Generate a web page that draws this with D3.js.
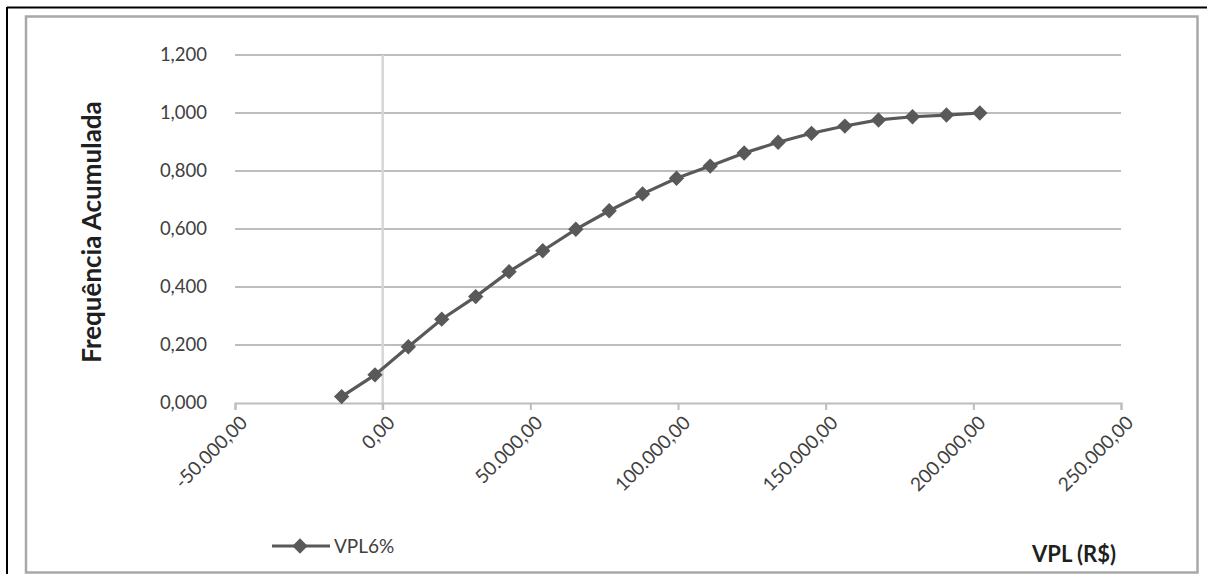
<!DOCTYPE html>
<html>
<head>
<meta charset="utf-8">
<script src="https://cdn.jsdelivr.net/npm/d3@7"></script>
<style>
  html, body { margin: 0; padding: 0; background: #fff; }
  svg { display: block; font-family: Lato, "Open Sans", sans-serif; }
</style>
</head>
<body>
<svg id="chart" width="1207" height="574"></svg>
<script>
// ---- Data ----
const vplValues = [-13900, -2600, 8700, 20000, 31500, 42800, 54200, 65400, 76700, 88000,
                   99500, 110900, 122400, 133900, 145200, 156500, 167900, 179400, 190900, 202200];
const freqAcum  = [0.022, 0.097, 0.194, 0.289, 0.367, 0.453, 0.525, 0.599, 0.663, 0.721,
                   0.775, 0.817, 0.862, 0.899, 0.930, 0.955, 0.976, 0.987, 0.993, 1.000];
const xTicks = [-50000, 0, 50000, 100000, 150000, 200000, 250000];
const yTicks = [0, 0.2, 0.4, 0.6, 0.8, 1.0, 1.2];
const seriesName = "VPL6%";
const xTitle = "VPL (R$)";
const yTitle = "Frequência Acumulada";

const locale = d3.formatLocale({decimal: ",", thousands: ".", grouping: [3], currency: ["R$ ", ""], minus: "-"});
const fx = locale.format(",.2f");
const fy = locale.format(".3f");

const svg = d3.select("#chart");
const W = 1207, H = 574;

// frames
svg.append("line").attr("x1", 7).attr("x2", W).attr("y1", 7.5).attr("y2", 7.5)
  .attr("stroke", "#000").attr("stroke-width", 2);
svg.append("line").attr("x1", 7).attr("x2", 7).attr("y1", 7).attr("y2", H)
  .attr("stroke", "#000").attr("stroke-width", 2);
svg.append("rect").attr("x", 26).attr("y", 16.5).attr("width", 1171.5).attr("height", 556)
  .attr("fill", "none").attr("stroke", "#a8a8a8").attr("stroke-width", 2.5);

const x = d3.scaleLinear().domain([-50000, 250000]).range([235, 1121]);
const y = d3.scaleLinear().domain([0, 1.2]).range([403, 55]);

// horizontal gridlines
svg.append("g").selectAll("line").data(yTicks.slice(1)).join("line")
  .attr("x1", x(-50000)).attr("x2", x(250000))
  .attr("y1", d => y(d)).attr("y2", d => y(d))
  .attr("stroke", "#bdbdbd").attr("stroke-width", 2);

// vertical axis line at x = 0
svg.append("line").attr("x1", x(0)).attr("x2", x(0)).attr("y1", y(1.2)).attr("y2", y(0) + 7)
  .attr("stroke", "#d6d6d6").attr("stroke-width", 2.5);

// x axis
const xAxis = svg.append("g").attr("transform", `translate(0,${y(0)})`)
  .call(d3.axisBottom(x).tickValues(xTicks).tickFormat(fx).tickSize(7).tickPadding(0));
xAxis.select(".domain").attr("stroke", "#bdbdbd").attr("stroke-width", 2);
xAxis.selectAll(".tick line").attr("stroke", "#bdbdbd").attr("stroke-width", 2);
xAxis.selectAll(".tick text")
  .attr("font-family", "Lato, sans-serif").attr("font-size", 19).attr("fill", "#404040")
  .attr("text-anchor", "end")
  .attr("y", 0).attr("dy", 0)
  .attr("transform", "translate(13,21) rotate(-45)");

// y axis labels
const yAxis = svg.append("g").attr("transform", `translate(${x(-50000)},0)`)
  .call(d3.axisLeft(y).tickValues(yTicks).tickFormat(fy).tickSize(0).tickPadding(28));
yAxis.select(".domain").remove();
yAxis.selectAll(".tick text")
  .attr("font-family", "Lato, sans-serif").attr("font-size", 18.5).attr("fill", "#404040");

// series
const pts = vplValues.map((v, i) => [v, freqAcum[i]]);
const color = "#595959";
svg.append("path").datum(pts)
  .attr("fill", "none").attr("stroke", color).attr("stroke-width", 3.2)
  .attr("d", d3.line().x(d => x(d[0])).y(d => y(d[1])));
const diamond = d3.symbol().type(d3.symbolDiamond2).size(150);
svg.append("g").selectAll("path").data(pts).join("path")
  .attr("transform", d => `translate(${x(d[0])},${y(d[1])})`)
  .attr("d", diamond).attr("fill", color);

// titles
svg.append("text").attr("transform", `translate(101,232) rotate(-90)`)
  .attr("text-anchor", "middle").attr("font-weight", "bold").attr("font-size", 26)
  .attr("fill", "#1f1f1f").text(yTitle);
svg.append("text").attr("x", 1116).attr("y", 562).attr("text-anchor", "end")
  .attr("font-weight", "bold").attr("font-size", 22).attr("fill", "#1f1f1f").text(xTitle);

// legend
const lg = svg.append("g");
lg.append("line").attr("x1", 272).attr("x2", 330).attr("y1", 546).attr("y2", 546)
  .attr("stroke", color).attr("stroke-width", 3.2);
lg.append("path").attr("transform", "translate(300,546)").attr("d", diamond).attr("fill", color);
lg.append("text").attr("x", 334).attr("y", 553).attr("font-size", 19).attr("fill", "#404040").text(seriesName);
</script>
</body>
</html>
